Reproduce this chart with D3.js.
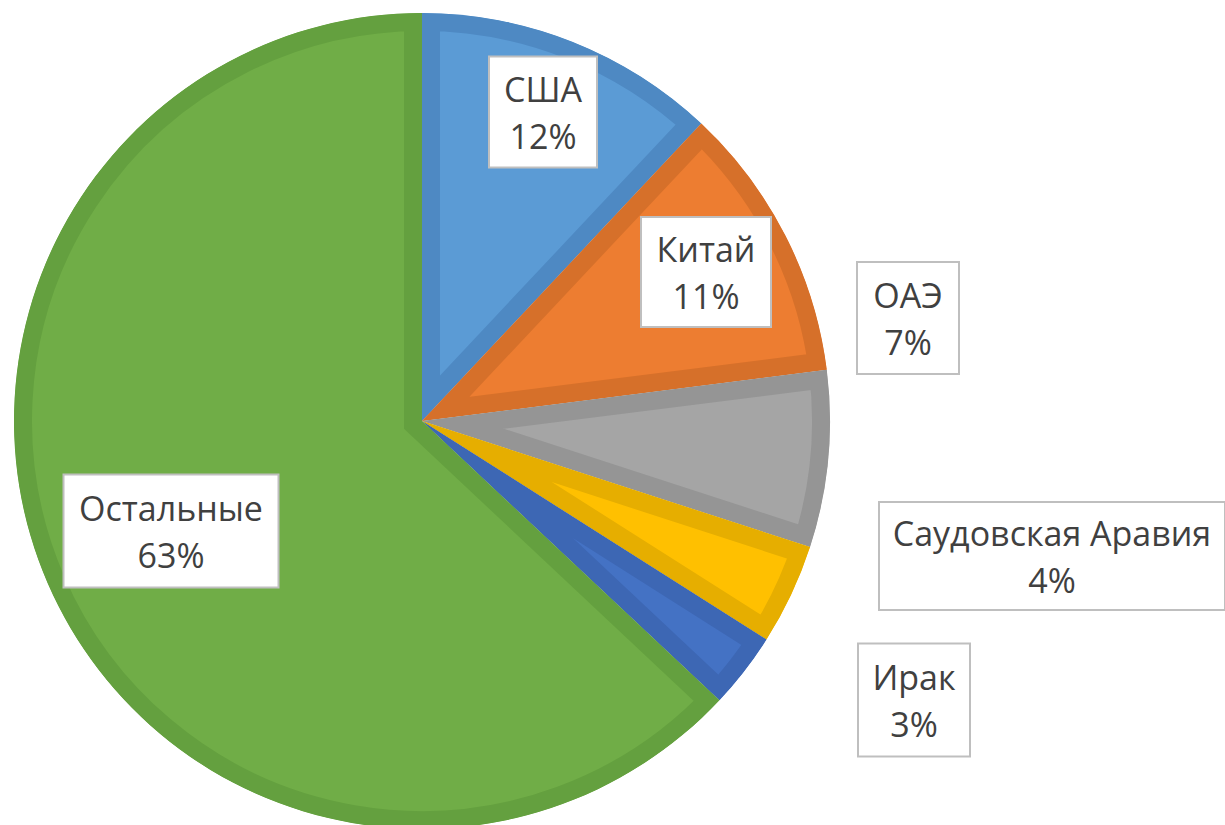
<!DOCTYPE html>
<html><head><meta charset="utf-8">
<script src="https://cdn.jsdelivr.net/npm/d3@7"></script>
<style>html,body{margin:0;padding:0;background:#fff;}svg{display:block;}</style>
</head><body>
<svg id="chart" width="1225" height="825"></svg>
<script>
// Data
const categories = ["США", "Китай", "ОАЭ", "Саудовская Аравия", "Ирак", "Остальные"];
const shares = [12, 11, 7, 4, 3, 63];
const percentLabels = ["12%", "11%", "7%", "4%", "3%", "63%"];

// Styles
const fills   = ["#5B9BD5", "#ED7D31", "#A5A5A5", "#FFC000", "#4472C4", "#70AD47"];
const borders = ["#4E89C3", "#D6702A", "#959595", "#E6AE00", "#3D67B4", "#64A03F"];
// Label box centers & sizes (layout)
const labelLayout = [
  {cx: 543, cy: 112, w: 108, h: 111},
  {cx: 706, cy: 272, w: 130, h: 110},
  {cx: 908, cy: 318, w: 102, h: 112},
  {cx: 1052, cy: 556, w: 346, h: 108},
  {cx: 914, cy: 700, w: 112, h: 113},
  {cx: 171, cy: 531, w: 215, h: 113}
];

const cx = 422, cy = 421, R = 408, borderW = 18;
const svg = d3.select("#chart");
const g = svg.append("g").attr("transform", `translate(${cx},${cy})`);

const pie = d3.pie().sort(null).value(d => d);
const arcs = pie(shares);
const arc = d3.arc().innerRadius(0).outerRadius(R);

const defs = svg.append("defs");
arcs.forEach((a, i) => {
  defs.append("clipPath").attr("id", "clip" + i)
    .append("path").attr("d", arc(a));
});

g.selectAll("path.slice").data(arcs).join("path")
  .attr("class", "slice")
  .attr("d", arc)
  .attr("fill", (d, i) => fills[i])
  .attr("stroke", (d, i) => borders[i])
  .attr("stroke-width", borderW * 2)
  .attr("stroke-linejoin", "miter")
  .attr("clip-path", (d, i) => `url(#clip${i})`);

const lg = svg.append("g").attr("font-family", "'Open Sans', sans-serif")
  .attr("font-size", 34).attr("fill", "#404040");

categories.forEach((c, i) => {
  const L = labelLayout[i];
  const grp = lg.append("g");
  grp.append("rect")
    .attr("x", L.cx - L.w / 2).attr("y", L.cy - L.h / 2)
    .attr("width", L.w).attr("height", L.h)
    .attr("fill", "#fff").attr("stroke", "#BFBFBF").attr("stroke-width", 2);
  grp.append("text").attr("x", L.cx).attr("y", L.cy - 10)
    .attr("text-anchor", "middle").text(c);
  grp.append("text").attr("x", L.cx).attr("y", L.cy + 37)
    .attr("text-anchor", "middle").text(percentLabels[i]);
});
</script>
</body></html>
